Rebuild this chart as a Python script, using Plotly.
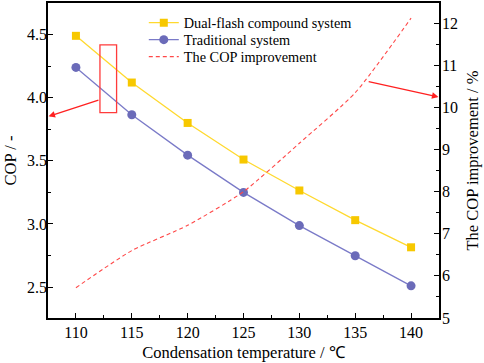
import plotly.graph_objects as go

temps = [110, 115, 120, 125, 130, 135, 140]
cop_dual = [4.49, 4.12, 3.80, 3.51, 3.265, 3.03, 2.815]
cop_trad = [4.24, 3.865, 3.545, 3.25, 2.987, 2.748, 2.51]
cop_improve = [5.72, 6.6, 7.2, 8.0, 9.15, 10.35, 12.12]

names = ["Dual-flash compound system", "Traditional system", "The COP improvement"]

FONT = "Liberation Serif, Times New Roman, serif"

fig = go.Figure()
fig.add_trace(go.Scatter(
    x=temps, y=cop_dual, name=names[0], mode="lines+markers", legend="legend",
    line=dict(color="#FFD92E", width=1.3),
    marker=dict(symbol="square", size=8, color="#F7C800"),
))
fig.add_trace(go.Scatter(
    x=temps, y=cop_trad, name=names[1], mode="lines+markers", legend="legend2",
    line=dict(color="#7A7AC8", width=1.3),
    marker=dict(symbol="circle", size=9, color="#6B6BB9"),
))
fig.add_trace(go.Scatter(
    x=temps, y=cop_improve, name=names[2], mode="lines", yaxis="y2", legend="legend3",
    line=dict(color="#FF4848", width=1.1, dash="4px,3px", shape="spline", smoothing=0.6),
))

axis_common = dict(
    showline=True, linecolor="black", linewidth=1.5,
    ticks="inside", ticklen=5, tickwidth=1.2, tickcolor="black",
    showgrid=False, zeroline=False, automargin=False,
    tickfont=dict(family=FONT, size=16, color="black"),
)

leg_common = dict(x=0.245, xanchor="left", yanchor="middle",
                  bgcolor="rgba(0,0,0,0)", font=dict(family=FONT, size=14.3, color="black"))

fig.update_layout(
    width=484, height=363,
    margin=dict(l=48, r=45, t=3, b=45),
    paper_bgcolor="white", plot_bgcolor="white",
    font=dict(family=FONT, size=15, color="black"),
    showlegend=True,
    legend=dict(y=0.937, **leg_common),
    legend2=dict(y=0.883, **leg_common),
    legend3=dict(y=0.829, **leg_common),
    xaxis=dict(range=[107.5, 142.5], dtick=5, tick0=110, mirror=True, ticklabelstandoff=-1,
               minor=dict(dtick=2.5, ticks="inside", ticklen=3, tickcolor="black"),
               title=dict(text="Condensation temperature / \u2103", font=dict(family=FONT, size=16.5), standoff=6),
               **axis_common),
    yaxis=dict(range=[2.255, 4.75], dtick=0.5, tick0=2.5, tickformat=".1f", ticklabelstandoff=-4,
               minor=dict(dtick=0.25, ticks="inside", ticklen=3, tickcolor="black"),
               title=dict(text="COP / -", font=dict(family=FONT, size=16.5), standoff=6),
               **axis_common),
    yaxis2=dict(range=[5, 12.48], dtick=1, tick0=5, overlaying="y", side="right", ticklabelstandoff=-2,
                minor=dict(dtick=0.5, ticks="inside", ticklen=3, tickcolor="black"),
                title=dict(text="The COP improvement / %", font=dict(family=FONT, size=16.5), standoff=9),
                **axis_common),
)

fig.add_shape(type="rect", xref="x", yref="y", x0=112.15, x1=113.64, y0=3.881, y1=4.418,
              line=dict(color="#FF3B3B", width=1.3), fillcolor="rgba(0,0,0,0)")

fig.add_annotation(xref="x", yref="y", x=107.55, y=3.852, axref="x", ayref="y", ax=112.15, ay=3.984,
                   showarrow=True, arrowhead=2, arrowsize=1, arrowwidth=1.3, arrowcolor="#FF2020", text="")
fig.add_annotation(xref="x", yref="y2", x=142.45, y=10.25, axref="x", ayref="y2", ax=136.07, ay=10.62,
                   showarrow=True, arrowhead=2, arrowsize=1, arrowwidth=1.3, arrowcolor="#FF2020", text="")

fig.write_html("out.html", config={"displayModeBar": False},
               post_script="document.body.style.margin='0';document.body.style.overflow='hidden';")
